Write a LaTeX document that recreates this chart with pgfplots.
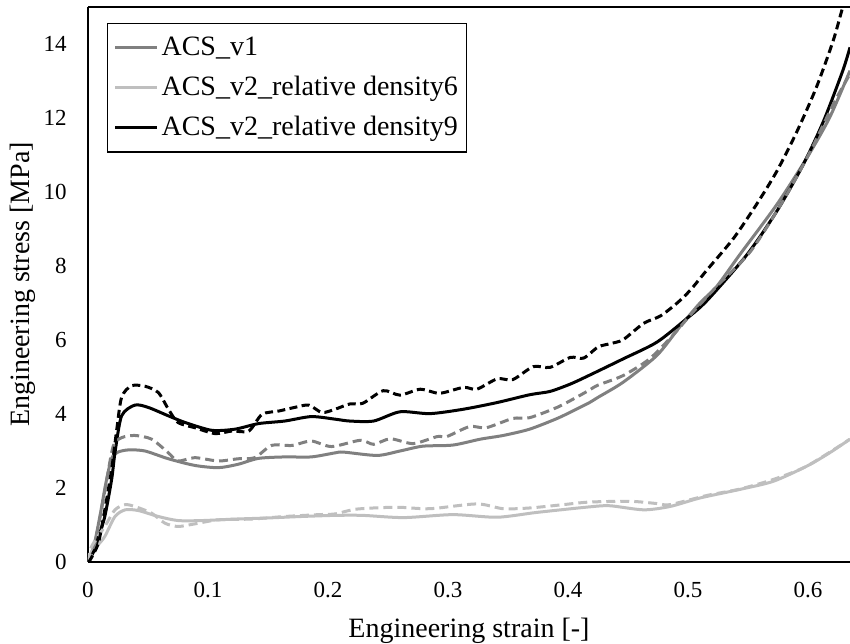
\documentclass[border=0pt]{standalone}
\usepackage{pgfplots}
\pgfplotsset{compat=1.18}
\usepackage{fontspec}
\setmainfont{Liberation Serif}
\definecolor{cgray}{RGB}{128,128,128}
\definecolor{clight}{RGB}{191,191,191}
\begin{document}
\begin{tikzpicture}
\begin{axis}[
  name=ax,
  scale only axis,
  width=381pt, height=277.5pt,
  xmin=0, xmax=0.635, ymin=0, ymax=15,
  axis x line*=box, axis y line*=left,
  axis line style={line width=0.8pt},
  xtick={0,0.1,0.2,0.3,0.4,0.5,0.6},
  xticklabels={0,0.1,0.2,0.3,0.4,0.5,0.6},
  ytick={0,2,4,6,8,10,12,14},
  major tick length=0pt,
  /pgf/number format/assume math mode=true,
  tick label style={font=\fontsize{11.5}{13}\selectfont},
  xticklabel style={anchor=north, inner sep=0pt, yshift=-10pt},
  yticklabel style={anchor=east, inner sep=0pt, xshift=-10.5pt},
  xlabel={Engineering strain [-]},
  ylabel={Engineering stress [MPa]},
  label style={font=\fontsize{14}{16}\selectfont},
  xlabel style={at={(axis description cs:0.5,0)}, anchor=north, inner sep=0pt, yshift=-28pt},
  ylabel style={at={(axis description cs:-0.0853,0.5)}, anchor=center, inner sep=0pt},
  legend style={at={(axis description cs:0,1)}, anchor=north west, xshift=9.5pt, yshift=-8pt,
    draw=black, line width=0.6pt, font=\fontsize{14}{16}\selectfont,
    inner xsep=3pt, inner ysep=3pt, row sep=2pt,
    nodes={inner xsep=1.5pt, inner ysep=3.5pt}},
  legend cell align=left,
  legend image code/.code={\draw[#1, line width=1.5pt] (0pt,0pt) -- (21pt,0pt);},
  every axis plot/.append style={line width=1.5pt, smooth, tension=0.45},
]
% ACS_v1 solid
\addplot[cgray] coordinates {
(0,0) (0.005,0.45) (0.01,1.25) (0.015,2.15) (0.0197,2.80) (0.025,2.97) (0.034,3.03)
(0.0475,3.00) (0.067,2.79) (0.089,2.61) (0.1086,2.55) (0.125,2.64) (0.142,2.80)
(0.164,2.84) (0.186,2.84) (0.206,2.95) (0.213,2.97) (0.241,2.88) (0.26,3.00)
(0.279,3.13) (0.304,3.16) (0.327,3.32) (0.346,3.42) (0.368,3.59) (0.391,3.88)
(0.407,4.13) (0.418,4.31) (0.425,4.45) (0.446,4.86) (0.474,5.58) (0.493,6.35)
(0.51,7.0) (0.524,7.45) (0.543,8.30) (0.574,9.66) (0.599,10.92) (0.618,12.01) (0.635,13.28)};
\addlegendentry{ACS\_v1}
% density6 solid
\addplot[clight] coordinates {
(0,0) (0.003,0.28) (0.008,0.45) (0.014,0.69) (0.0225,1.23) (0.031,1.41) (0.042,1.39)
(0.0586,1.23) (0.075,1.12) (0.095,1.12) (0.1225,1.16) (0.150,1.19) (0.178,1.23)
(0.206,1.26) (0.229,1.26) (0.263,1.20) (0.304,1.28) (0.341,1.21) (0.374,1.34)
(0.418,1.49) (0.435,1.52) (0.463,1.41) (0.485,1.50) (0.51,1.73) (0.543,1.96)
(0.571,2.18) (0.599,2.59) (0.618,2.95) (0.635,3.32)};
\addlegendentry{ACS\_v2\_relative density6}
% density9 solid
\addplot[black] coordinates {
(0,0) (0.005,0.3) (0.009,0.7) (0.014,1.23) (0.0197,2.23) (0.0225,2.96) (0.028,3.95)
(0.039,4.24) (0.05,4.18) (0.067,3.95) (0.081,3.77) (0.103,3.56) (0.1225,3.59)
(0.142,3.74) (0.164,3.81) (0.186,3.93) (0.206,3.86) (0.218,3.81) (0.238,3.81)
(0.26,4.06) (0.285,4.01) (0.313,4.13) (0.341,4.31) (0.368,4.52) (0.385,4.61)
(0.402,4.81) (0.418,5.05) (0.446,5.49) (0.474,5.94) (0.499,6.58) (0.516,7.07)
(0.549,8.30) (0.574,9.48) (0.596,10.74) (0.613,11.92) (0.629,13.28) (0.635,13.91)};
\addlegendentry{ACS\_v2\_relative density9}
% ACS_v1 dashed
\addplot[cgray, dash pattern=on 4.5pt off 2.5pt, forget plot] coordinates {
(0,0) (0.005,0.4) (0.01,1.2) (0.015,2.1) (0.021,3.13) (0.028,3.36) (0.039,3.42)
(0.053,3.32) (0.067,2.95) (0.075,2.73) (0.089,2.82) (0.1086,2.73) (0.125,2.79)
(0.139,2.82) (0.153,3.15) (0.17,3.15) (0.186,3.27) (0.203,3.12) (0.227,3.29)
(0.238,3.18) (0.252,3.33) (0.271,3.20) (0.291,3.39) (0.299,3.39) (0.318,3.66)
(0.332,3.63) (0.354,3.88) (0.368,3.90) (0.391,4.18) (0.407,4.45) (0.418,4.65)
(0.425,4.78) (0.446,5.04) (0.468,5.49) (0.488,6.15) (0.504,6.75) (0.524,7.45)
(0.552,8.39) (0.579,9.75) (0.602,11.1) (0.621,12.37) (0.635,13.19)};
% density6 dashed
\addplot[clight, dash pattern=on 4.5pt off 2.5pt, forget plot] coordinates {
(0,0) (0.003,0.42) (0.014,0.96) (0.0225,1.41) (0.031,1.55) (0.039,1.50) (0.053,1.32)
(0.064,1.05) (0.075,0.96) (0.089,1.03) (0.1086,1.14) (0.136,1.16) (0.164,1.23)
(0.192,1.28) (0.206,1.30) (0.224,1.43) (0.257,1.48) (0.285,1.44) (0.324,1.57)
(0.346,1.44) (0.368,1.46) (0.396,1.55) (0.418,1.62) (0.452,1.64) (0.474,1.58)
(0.485,1.55) (0.516,1.80) (0.543,1.97) (0.571,2.23) (0.599,2.59) (0.635,3.32)};
% density9 dashed
\addplot[black, dash pattern=on 4pt off 2.2pt, forget plot] coordinates {
(0,0) (0.0017,0.05) (0.0086,0.51) (0.014,1.41) (0.0197,2.50) (0.024,3.59) (0.028,4.45)
(0.036,4.76) (0.0475,4.75) (0.0586,4.58) (0.067,4.13) (0.075,3.77) (0.089,3.63)
(0.106,3.47) (0.12,3.54) (0.134,3.54) (0.145,3.99) (0.159,4.08) (0.1725,4.18)
(0.184,4.24) (0.195,4.04) (0.206,4.13) (0.218,4.27) (0.229,4.29) (0.246,4.63)
(0.26,4.51) (0.277,4.67) (0.293,4.56) (0.313,4.72) (0.324,4.67) (0.341,4.95)
(0.354,4.93) (0.371,5.28) (0.385,5.26) (0.402,5.53) (0.413,5.51) (0.425,5.81)
(0.435,5.90) (0.446,6.01) (0.463,6.45) (0.477,6.65) (0.491,7.0) (0.502,7.35)
(0.516,7.9) (0.538,8.75) (0.557,9.66) (0.574,10.56) (0.591,11.65) (0.607,12.83)
(0.621,14.09) (0.629,15.0) (0.635,15.6)};
\end{axis}
\pgfresetboundingbox
\useasboundingbox ([xshift=-44pt,yshift=-41pt]ax.south west) rectangle ([yshift=3.5pt]ax.north east);
\end{tikzpicture}
\end{document}
